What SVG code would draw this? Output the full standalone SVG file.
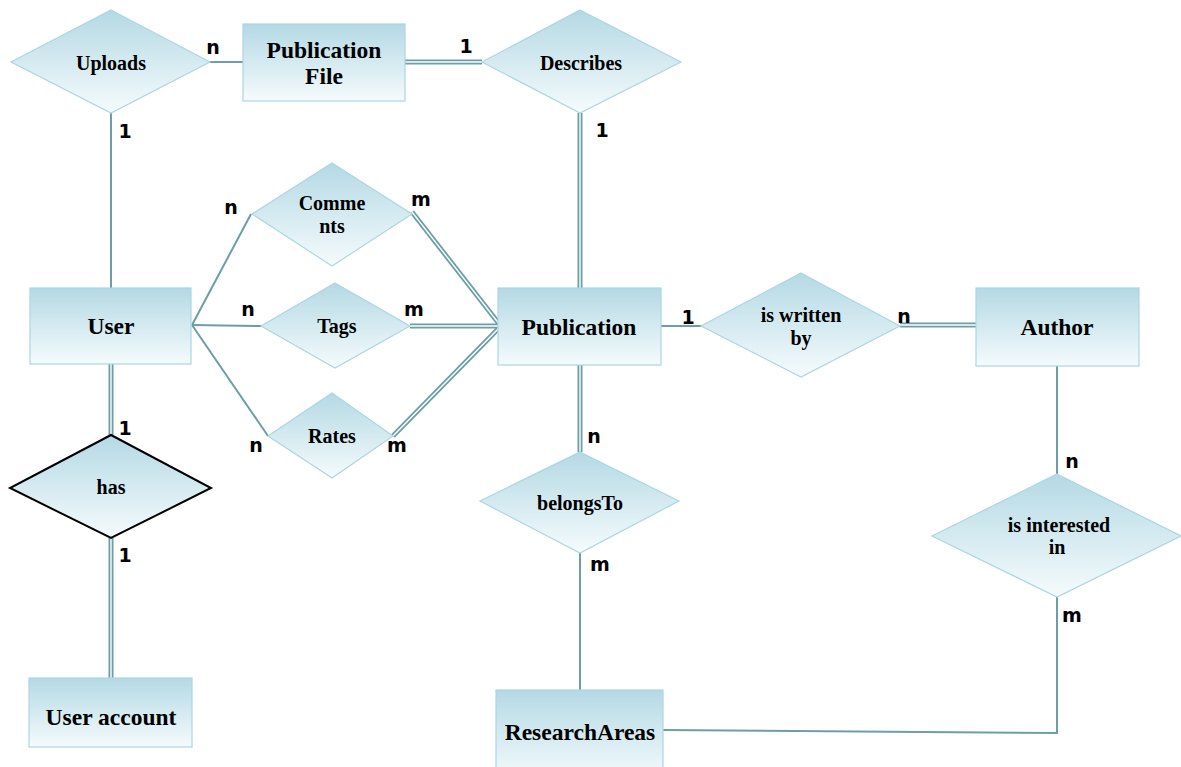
<svg xmlns="http://www.w3.org/2000/svg" width="1181" height="767" viewBox="0 0 1181 767">
  <defs>
    <linearGradient id="fillGrad" x1="0" y1="0" x2="0" y2="1">
      <stop offset="0" stop-color="#b4d9e4"/>
      <stop offset="1" stop-color="#f5fbfd"/>
    </linearGradient>
  </defs>
  <style>
    .ent { fill: url(#fillGrad); stroke: #acd6e1; stroke-width: 1.2; }
    .rel { fill: url(#fillGrad); stroke: #acd6e1; stroke-width: 1.2; }
    .rel-strong { fill: url(#fillGrad); stroke: #000; stroke-width: 2; }
    .single { fill: none; stroke: #6b9fa5; stroke-width: 2; }
    .dbl-out { fill: none; stroke: #6b9fa5; stroke-width: 5; }
    .dbl-in { fill: none; stroke: #ffffff; stroke-width: 1.4; }
    .ent-txt { font-family: "Liberation Serif", "Times New Roman", serif; font-weight: bold; font-size: 23.5px; fill: #000; text-anchor: middle; }
    .rel-txt { font-family: "Liberation Serif", "Times New Roman", serif; font-weight: bold; font-size: 20px; fill: #000; text-anchor: middle; }
    .card { font-family: "DejaVu Sans", Verdana, sans-serif; font-weight: bold; font-size: 19px; fill: #000; text-anchor: middle; }
  </style>

  <g id="connectors">
    <!-- single lines -->
    <line class="single" x1="210" y1="62" x2="243" y2="62"/>
    <line class="single" x1="111" y1="113" x2="111" y2="288"/>
    <line class="single" x1="192" y1="325" x2="251" y2="214"/>
    <line class="single" x1="192" y1="325" x2="261" y2="326"/>
    <line class="single" x1="192" y1="325" x2="268" y2="436"/>
    <line class="single" x1="661" y1="326" x2="701" y2="326"/>
    <line class="single" x1="1057" y1="366" x2="1057" y2="474"/>
    <line class="single" x1="580" y1="553" x2="580" y2="690"/>
    <polyline class="single" points="1057,597 1057,733 663,730"/>

    <!-- double lines (total participation) -->
    <g id="double-outer">
      <line class="dbl-out" x1="405" y1="62" x2="482" y2="62"/>
      <line class="dbl-out" x1="580" y1="113" x2="580" y2="288"/>
      <line class="dbl-out" x1="412" y1="212" x2="500" y2="325"/>
      <line class="dbl-out" x1="410" y1="326" x2="500" y2="326"/>
      <line class="dbl-out" x1="393" y1="436" x2="500" y2="327"/>
      <line class="dbl-out" x1="900" y1="325" x2="976" y2="325"/>
      <line class="dbl-out" x1="111" y1="364" x2="111" y2="435"/>
      <line class="dbl-out" x1="111" y1="538" x2="111" y2="678"/>
      <line class="dbl-out" x1="580" y1="365" x2="580" y2="452"/>
    </g>
    <g id="double-inner">
      <line class="dbl-in" x1="405" y1="62" x2="482" y2="62"/>
      <line class="dbl-in" x1="580" y1="113" x2="580" y2="288"/>
      <line class="dbl-in" x1="412" y1="212" x2="500" y2="325"/>
      <line class="dbl-in" x1="410" y1="326" x2="500" y2="326"/>
      <line class="dbl-in" x1="393" y1="436" x2="500" y2="327"/>
      <line class="dbl-in" x1="900" y1="325" x2="976" y2="325"/>
      <line class="dbl-in" x1="111" y1="364" x2="111" y2="435"/>
      <line class="dbl-in" x1="111" y1="538" x2="111" y2="678"/>
      <line class="dbl-in" x1="580" y1="365" x2="580" y2="452"/>
    </g>
  </g>

  <!-- entities -->
  <g id="publication-file">
    <rect class="ent" x="243" y="24" width="162" height="77"/>
    <text class="ent-txt" x="324" y="58">Publication</text>
    <text class="ent-txt" x="324" y="84">File</text>
  </g>
  <g id="user">
    <rect class="ent" x="30" y="288" width="161" height="76"/>
    <text class="ent-txt" x="111" y="334">User</text>
  </g>
  <g id="publication">
    <rect class="ent" x="498" y="288" width="163" height="77"/>
    <text class="ent-txt" x="579" y="335">Publication</text>
  </g>
  <g id="author">
    <rect class="ent" x="976" y="288" width="163" height="78"/>
    <text class="ent-txt" x="1057" y="335">Author</text>
  </g>
  <g id="user-account">
    <rect class="ent" x="29" y="678" width="163" height="69"/>
    <text class="ent-txt" x="111" y="725">User account</text>
  </g>
  <g id="research-areas">
    <rect class="ent" x="496" y="690" width="167" height="90"/>
    <text class="ent-txt" x="580" y="740">ResearchAreas</text>
  </g>

  <!-- relationships -->
  <g id="uploads">
    <polygon class="rel" points="111,10 210,62 111,113 11,62"/>
    <text class="rel-txt" x="111" y="70">Uploads</text>
  </g>
  <g id="describes">
    <polygon class="rel" points="580,10 681,62 580,113 482,62"/>
    <text class="rel-txt" x="581" y="70">Describes</text>
  </g>
  <g id="comments">
    <polygon class="rel" points="332,163 412,214 332,266 252,214"/>
    <text class="rel-txt" x="332" y="210">Comme</text>
    <text class="rel-txt" x="332" y="233">nts</text>
  </g>
  <g id="tags">
    <polygon class="rel" points="335,283 410,326 335,368 261,326"/>
    <text class="rel-txt" x="337" y="333">Tags</text>
  </g>
  <g id="rates">
    <polygon class="rel" points="332,393 393,436 332,478 268,436"/>
    <text class="rel-txt" x="332" y="443">Rates</text>
  </g>
  <g id="is-written-by">
    <polygon class="rel" points="801,273 900,326 801,377 701,326"/>
    <text class="rel-txt" x="801" y="322">is written</text>
    <text class="rel-txt" x="801" y="345">by</text>
  </g>
  <g id="has">
    <polygon class="rel-strong" points="111,435 211,488 111,538 10,488"/>
    <text class="rel-txt" x="111" y="494">has</text>
  </g>
  <g id="belongs-to">
    <polygon class="rel" points="580,452 679,501 580,553 480,501"/>
    <text class="rel-txt" x="580" y="510">belongsTo</text>
  </g>
  <g id="is-interested-in">
    <polygon class="rel" points="1057,474 1181,536 1057,597 932,536"/>
    <text class="rel-txt" x="1059" y="532">is interested</text>
    <text class="rel-txt" x="1057" y="554">in</text>
  </g>

  <!-- cardinalities -->
  <g id="cardinalities">
    <text class="card" x="213" y="54">n</text>
    <text class="card" x="125" y="138">1</text>
    <text class="card" x="466" y="53">1</text>
    <text class="card" x="602" y="137">1</text>
    <text class="card" x="231" y="214">n</text>
    <text class="card" x="421" y="206">m</text>
    <text class="card" x="248" y="316">n</text>
    <text class="card" x="414" y="316">m</text>
    <text class="card" x="256" y="452">n</text>
    <text class="card" x="397" y="452">m</text>
    <text class="card" x="688" y="324">1</text>
    <text class="card" x="904" y="323">n</text>
    <text class="card" x="125" y="435">1</text>
    <text class="card" x="125" y="562">1</text>
    <text class="card" x="594" y="443">n</text>
    <text class="card" x="600" y="571">m</text>
    <text class="card" x="1072" y="468">n</text>
    <text class="card" x="1072" y="622">m</text>
  </g>
</svg>
